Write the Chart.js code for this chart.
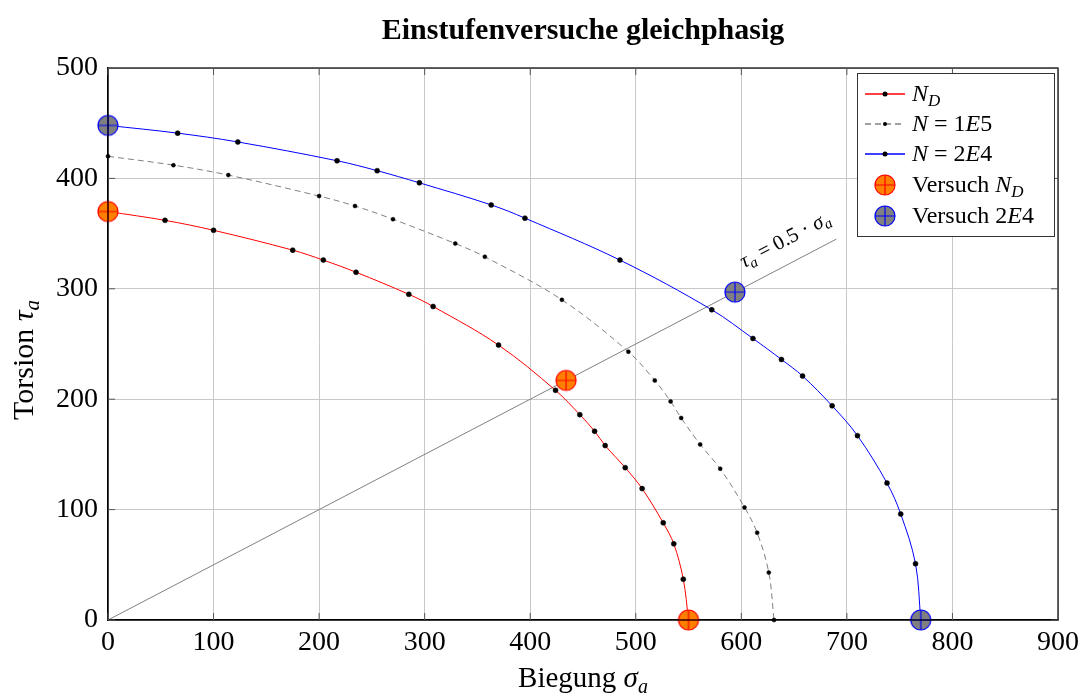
<!DOCTYPE html>
<html>
<head>
<meta charset="utf-8">
<script src="https://cdn.jsdelivr.net/npm/chart.js@4.4.1/dist/chart.umd.min.js"></script>
<style>
  html, body { margin: 0; padding: 0; background: #fff; }
  #wrap { width: 1085px; height: 697px; }
</style>
</head>
<body>
<div id="wrap"><canvas id="chart" width="1085" height="697"></canvas></div>
<script>
/* Einstufenversuche gleichphasig — Biegung vs. Torsion */

// N_D curve
const ndSigma = [0, 54, 100, 175, 204, 235, 285, 308, 370, 424, 447, 461, 471, 490, 506, 526, 536, 545, 550];
const ndTau   = [370, 362, 353, 335, 326, 315, 295, 284, 249, 208, 186, 171, 158, 138, 119, 88, 69, 37, 0];

// N = 1E5 curve
const e5Sigma = [0, 62, 114, 200, 234, 270, 329, 357, 430, 493, 518, 533, 543, 561, 580, 603, 615, 626, 631];
const e5Tau   = [420, 412, 403, 384, 375, 363, 341, 329, 290, 243, 217, 198, 183, 159, 137, 102, 79, 43, 0];

// N = 2E4 curve
const e4Sigma = [0, 66, 123, 217, 255, 295, 363, 395, 485, 572, 611, 638, 658, 686, 710, 738, 751, 765, 770];
const e4Tau   = [448, 441, 433, 416, 407, 396, 376, 364, 326, 281, 255, 236, 221, 194, 167, 124, 96, 51, 0];

// test results
const testNdSigma = [0, 434, 550];
const testNdTau   = [370, 217, 0];
const testE4Sigma = [0, 594, 770];
const testE4Tau   = [448, 297, 0];

// proportional loading path tau = 0.5 * sigma
const ratio = 0.5;
const pathSigma = [0, 690];

const xTicks = [0, 100, 200, 300, 400, 500, 600, 700, 800, 900];
const yTicks = [0, 100, 200, 300, 400, 500];

const SERIF = '"Liberation Serif", "DejaVu Serif", serif';

const pts = (xs, ys) => xs.map((x, i) => ({ x, y: ys[i] }));

function fontFor(style, size) {
  if (style === 's') return `italic ${Math.round(size * 0.7)}px ${SERIF}`;
  if (style === 'i') return `italic ${size}px ${SERIF}`;
  if (style === 'b') return `bold ${size}px ${SERIF}`;
  return `${size}px ${SERIF}`;
}

// text runs: [string, style] with '' upright, 'i' italic, 's' italic subscript
function drawRich(ctx, parts, x, y, size, align) {
  let w = 0;
  parts.forEach(p => { ctx.font = fontFor(p[1], size); w += ctx.measureText(p[0]).width; });
  let cx = align === 'center' ? x - w / 2 : x;
  ctx.textAlign = 'left';
  ctx.textBaseline = 'alphabetic';
  parts.forEach(p => {
    ctx.font = fontFor(p[1], size);
    ctx.fillText(p[0], cx, y + (p[1] === 's' ? size * 0.2 : 0));
    cx += ctx.measureText(p[0]).width;
  });
}

// circle with a cross through it
function oplus(fill, stroke, r) {
  const c = document.createElement('canvas');
  const s = Math.ceil(r * 2 + 4);
  c.width = c.height = s;
  const g = c.getContext('2d');
  const m = s / 2;
  g.beginPath(); g.arc(m, m, r, 0, Math.PI * 2);
  g.fillStyle = fill; g.fill();
  g.lineWidth = 1.2; g.strokeStyle = stroke; g.stroke();
  g.beginPath();
  g.moveTo(m - r, m); g.lineTo(m + r, m);
  g.moveTo(m, m - r); g.lineTo(m, m + r);
  g.stroke();
  return c;
}

const markNd = oplus('#ff8000', '#ff0000', 10);
const markE4 = oplus('#808080', '#0000ff', 10);

const legendRows = [
  { kind: 'line', color: '#ff0000', dash: [], text: [['N', 'i'], ['D', 's']] },
  { kind: 'line', color: '#808080', dash: [6, 4], small: true, text: [['N', 'i'], [' = 1', ''], ['E', 'i'], ['5', '']] },
  { kind: 'line', color: '#0000ff', dash: [], text: [['N', 'i'], [' = 2', ''], ['E', 'i'], ['4', '']] },
  { kind: 'mark', img: markNd, text: [['Versuch ', ''], ['N', 'i'], ['D', 's']] },
  { kind: 'mark', img: markE4, text: [['Versuch 2', ''], ['E', 'i'], ['4', '']] }
];

const decorations = {
  id: 'decorations',
  afterDraw(chart) {
    const { ctx, chartArea: a, scales: { x, y } } = chart;
    ctx.save();

    // frame and inner tick marks
    ctx.strokeStyle = '#000'; ctx.lineWidth = 1.2;
    ctx.strokeRect(a.left, a.top, a.right - a.left, a.bottom - a.top);
    ctx.strokeStyle = '#555'; ctx.lineWidth = 1;
    ctx.beginPath();
    xTicks.forEach(v => {
      const px = x.getPixelForValue(v);
      ctx.moveTo(px, a.bottom); ctx.lineTo(px, a.bottom - 7);
      ctx.moveTo(px, a.top); ctx.lineTo(px, a.top + 7);
    });
    yTicks.forEach(v => {
      const py = y.getPixelForValue(v);
      ctx.moveTo(a.left, py); ctx.lineTo(a.left + 7, py);
      ctx.moveTo(a.right, py); ctx.lineTo(a.right - 7, py);
    });
    ctx.stroke();

    ctx.fillStyle = '#000';
    // title
    ctx.font = fontFor('b', 30);
    ctx.textAlign = 'center'; ctx.textBaseline = 'alphabetic';
    ctx.fillText('Einstufenversuche gleichphasig', (a.left + a.right) / 2, 39);

    // axis titles
    drawRich(ctx, [['Biegung ', ''], ['σ', 'i'], ['a', 's']], (a.left + a.right) / 2, 687, 29, 'center');
    ctx.save();
    ctx.translate(33, 360);
    ctx.rotate(-Math.PI / 2);
    drawRich(ctx, [['Torsion ', ''], ['τ', 'i'], ['a', 's']], 0, 0, 30, 'center');
    ctx.restore();

    // label along the loading path
    const s0 = 610;
    const p0 = { x: x.getPixelForValue(s0), y: y.getPixelForValue(ratio * s0) };
    const p1 = { x: x.getPixelForValue(pathSigma[1]), y: y.getPixelForValue(ratio * pathSigma[1]) };
    const ang = Math.atan2(p1.y - p0.y, p1.x - p0.x);
    ctx.save();
    ctx.translate(p0.x, p0.y);
    ctx.rotate(ang);
    drawRich(ctx, [['τ', 'i'], ['a', 's'], [' = 0.5 · ', ''], ['σ', 'i'], ['a', 's']], 0, -17, 21, 'left');
    ctx.restore();

    // legend
    const lx = 857, ly = 73, lw = 197, lh = 163;
    ctx.fillStyle = '#fff';
    ctx.fillRect(lx, ly, lw, lh);
    ctx.strokeStyle = '#333'; ctx.lineWidth = 1;
    ctx.strokeRect(lx + 0.5, ly + 0.5, lw, lh);
    const baselines = [101, 131, 161, 192, 223];
    legendRows.forEach((r, i) => {
      const cy = baselines[i] - 7;
      if (r.kind === 'line') {
        ctx.strokeStyle = r.color; ctx.lineWidth = 1.3; ctx.setLineDash(r.dash);
        ctx.beginPath(); ctx.moveTo(865, cy); ctx.lineTo(905, cy); ctx.stroke();
        ctx.setLineDash([]);
        ctx.fillStyle = '#000';
        ctx.beginPath(); ctx.arc(885, cy, r.small ? 2 : 2.5, 0, Math.PI * 2); ctx.fill();
      } else {
        ctx.drawImage(r.img, 885 - r.img.width / 2, cy - r.img.height / 2);
      }
      ctx.fillStyle = '#000';
      drawRich(ctx, r.text, 912, baselines[i], 24, 'left');
    });
    ctx.restore();
  }
};

const dot = { pointRadius: 2.5, pointBackgroundColor: '#000', pointBorderColor: '#000', pointBorderWidth: 0.5 };

new Chart(document.getElementById('chart'), {
  type: 'scatter',
  data: {
    datasets: [
      { label: 'Versuch ND', data: pts(testNdSigma, testNdTau), pointStyle: markNd, pointRadius: 10, order: 0, clip: false },
      { label: 'Versuch 2E4', data: pts(testE4Sigma, testE4Tau), pointStyle: markE4, pointRadius: 10, order: 0, clip: false },
      Object.assign({ label: 'ND', data: pts(ndSigma, ndTau), showLine: true, borderColor: '#ff0000', borderWidth: 1,
        tension: 0.35, order: 1, clip: false }, dot),
      Object.assign({ label: 'N = 1E5', data: pts(e5Sigma, e5Tau), showLine: true, borderColor: '#808080', borderWidth: 1,
        borderDash: [6, 4], tension: 0.35, order: 2, clip: false }, dot, { pointRadius: 2 }),
      Object.assign({ label: 'N = 2E4', data: pts(e4Sigma, e4Tau), showLine: true, borderColor: '#0000ff', borderWidth: 1,
        tension: 0.35, order: 3, clip: false }, dot),
      { label: 'path', data: pathSigma.map(s => ({ x: s, y: ratio * s })), showLine: true, borderColor: '#808080',
        borderWidth: 1, pointRadius: 0, order: 5 }
    ]
  },
  options: {
    responsive: false,
    animation: false,
    events: [],
    layout: { padding: { left: 0, right: 27, top: 68, bottom: 0 } },
    plugins: { legend: { display: false }, title: { display: false }, tooltip: { enabled: false } },
    scales: {
      x: {
        type: 'linear', min: 0, max: 900,
        afterFit: s => { s.height = 77; },
        afterBuildTicks: s => { s.ticks = xTicks.map(v => ({ value: v })); },
        grid: { color: '#c8c8c8', drawTicks: false },
        border: { color: '#000', width: 1.2 },
        ticks: { color: '#000', padding: 6, maxRotation: 0, font: { family: SERIF, size: 28 } }
      },
      y: {
        type: 'linear', min: 0, max: 500,
        afterFit: s => { s.width = 108; },
        afterBuildTicks: s => { s.ticks = yTicks.map(v => ({ value: v })); },
        grid: { color: '#c8c8c8', drawTicks: false },
        border: { color: '#000', width: 1.2 },
        ticks: { color: '#000', padding: 10, font: { family: SERIF, size: 28 } }
      }
    }
  },
  plugins: [decorations]
});
</script>
</body>
</html>
